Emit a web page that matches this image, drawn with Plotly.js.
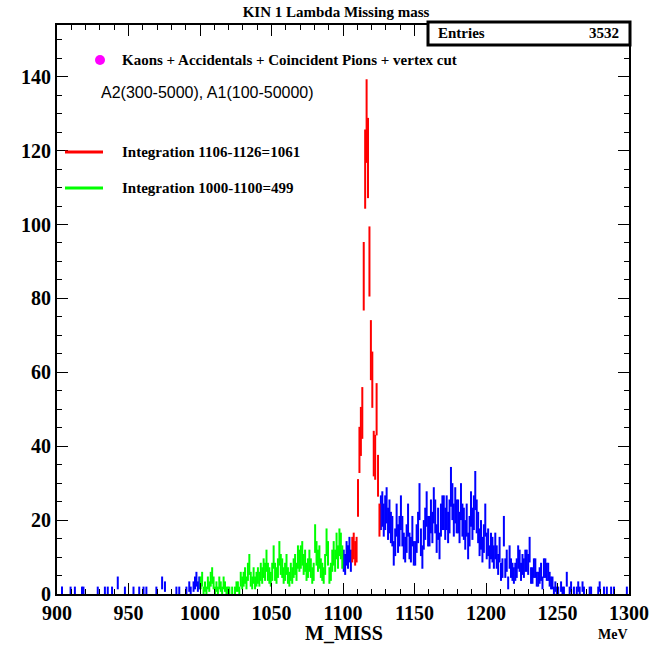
<!DOCTYPE html>
<html>
<head>
<meta charset="utf-8">
<script src="https://cdn.plot.ly/plotly-3.0.1.min.js"></script>
<style>html,body{margin:0;padding:0;background:#fff;}#plot{width:654px;height:648px;}</style>
</head>
<body>
<div id="plot"></div>
<script>
// Histogram M_MISS, 1 MeV bins from 900 to 1300
const binStart = 900;
const counts900 = [
 0,0,0,1,0,0,0,0,0,1,
 0,0,1,0,0,0,0,1,1,0,
 0,0,0,0,0,0,0,0,1,0,
 0,0,0,1,0,1,0,0,1,0,
 0,0,3,0,0,0,0,1,0,0,
 0,0,0,1,0,0,0,1,0,0,
 1,0,1,0,0,0,0,0,0,1,
 0,0,0,3,0,2,0,0,0,0,
 0,0,0,1,0,1,0,0,0,0,
 1,0,2,1,0,2,3,4,2,3];
// green selection 1000-1099
const countsGreen = [
 3,4,1,2,1,3,2,4,5,3,
 1,2,1,3,2,1,3,2,1,1,
 1,0,1,0,1,2,2,1,4,3,
 4,5,3,6,8,4,3,5,3,4,
 5,4,6,5,7,6,9,6,5,4,
 6,10,6,5,7,11,8,7,5,6,
 8,5,4,6,5,7,8,6,10,9,
 10,11,8,9,6,7,9,7,5,6,
 15,11,9,10,7,6,5,8,14,11,
 5,6,9,11,9,13,10,14,13,10];
// 1100-1105
const counts1100 = [9,8,11,10,12,9];
// red selection 1106-1125
const countsRed = [12,13,11,12,26,39,44,49,86,115,128,118,90,66,58,38,37,50,32,20];
// 1126-1299
const counts1126 = [
 22,23,20,22,24,19,21,18,17,11,14,20,15,17,
 22,17,13,12,15,20,13,12,17,11,
 11,15,18,25,14,10,16,19,23,17,
 17,21,18,24,21,15,19,13,20,22,
 22,19,22,18,21,29,25,20,24,21,
 21,18,25,20,19,16,20,13,17,23,
 19,22,28,21,18,14,16,12,15,20,
 13,14,10,13,12,10,13,10,8,12,
 6,7,17,7,9,3,10,7,6,5,
 6,7,10,9,6,8,7,9,9,8,
 12,5,5,7,7,4,4,5,6,3,
 7,7,6,6,4,3,3,1,2,1,
 1,0,2,1,1,0,4,0,1,2,
 0,1,0,1,2,1,0,2,1,0,
 0,0,1,1,0,0,0,0,1,2,
 0,0,1,0,1,0,0,1,0,1,
 0,0,0,0,0,0,0,0,1,0];

const xTickVals = [900,950,1000,1050,1100,1150,1200,1250,1300];
const yTickVals = [0,20,40,60,80,100,120,140];

const titleText = "KIN 1 Lambda Missing mass";
const xTitle = "M_MISS";
const unitText = "MeV";
const legendMain = "Kaons + Accidentals + Coincident Pions + vertex cut";
const legendCuts = "A2(300-5000), A1(100-50000)";
const legendRed = "Integration 1106-1126=1061";
const legendGreen = "Integration 1000-1100=499";
const entriesLabel = "Entries";
const entriesValue = "3532";

function centers(start, arr){ return arr.map((_, i) => start + i + 0.5); }
function errs(arr){ return arr.map(v => Math.sqrt(v)); }

function histTrace(start, arr, color){
  return {
    type: 'scatter', mode: 'markers',
    x: centers(start, arr), y: arr,
    marker: {size: 1, opacity: 0, color: color},
    error_y: {type: 'data', array: errs(arr), visible: true, width: 0, thickness: 2, color: color},
    hoverinfo: 'skip', showlegend: false, cliponaxis: true
  };
}

const traces = [
  histTrace(binStart, counts900, '#0000ff'),
  histTrace(1100, counts1100, '#0000ff'),
  histTrace(1126, counts1126, '#0000ff'),
  histTrace(1000, countsGreen, '#00ff00'),
  histTrace(1106, countsRed, '#ff0000')
];

// pixel helpers for decorations (plot frame px 57..629 x, 25..594 y)
const L = 57, R = 629, T = 25, B = 594;
const px = p => (p - L) / (R - L);
const py = p => (B - p) / (B - T);
const serifB = {family: 'Liberation Serif', size: 15, color: '#000', weight: 'bold'};

const layout = {
  width: 654, height: 648,
  margin: {l: L, r: 654 - R, t: T, b: 648 - B, pad: 0},
  paper_bgcolor: '#fff', plot_bgcolor: '#fff',
  showlegend: false,
  title: {text: titleText, font: {family: 'Liberation Serif', size: 15, weight: 'bold', color: '#000'},
          xref: 'paper', x: px(336), xanchor: 'center', yref: 'container', y: 1 - 12/648, yanchor: 'middle'},
  xaxis: {
    range: [900, 1300], tickvals: xTickVals, ticktext: xTickVals.map(String),
    ticks: 'inside', ticklen: 11, tickwidth: 1, tickcolor: '#000',
    minor: {dtick: 10, ticklen: 5, ticks: 'inside', tickcolor: '#000', tickwidth: 1},
    showline: true, linecolor: '#000', linewidth: 2, mirror: 'ticks',
    showgrid: false, zeroline: false,
    tickfont: {family: 'Liberation Serif', size: 20, weight: 'bold', color: '#000'}
  },
  yaxis: {
    range: [0, 154], tickvals: yTickVals, ticktext: yTickVals.map(String),
    ticks: 'inside', ticklen: 11, tickwidth: 1, tickcolor: '#000',
    minor: {dtick: 5, ticklen: 5, ticks: 'inside', tickcolor: '#000', tickwidth: 1},
    showline: true, linecolor: '#000', linewidth: 2, mirror: 'ticks',
    showgrid: false, zeroline: false,
    tickfont: {family: 'Liberation Serif', size: 20, weight: 'bold', color: '#000'}
  },
  shapes: [
    {type: 'rect', xref: 'paper', yref: 'paper', x0: px(428), x1: px(630), y0: py(45), y1: py(22),
     line: {color: '#000', width: 3}, fillcolor: '#fff', layer: 'above'},
    {type: 'circle', xref: 'paper', yref: 'paper', xsizemode: 'pixel', ysizemode: 'pixel',
     xanchor: px(100), yanchor: py(60), x0: -5, x1: 5, y0: -5, y1: 5,
     fillcolor: '#ff00ff', line: {color: '#ff00ff', width: 0}, layer: 'above'},
    {type: 'line', xref: 'paper', yref: 'paper', x0: px(65), x1: px(103), y0: py(152), y1: py(152),
     line: {color: '#ff0000', width: 3}, layer: 'above'},
    {type: 'line', xref: 'paper', yref: 'paper', x0: px(65), x1: px(103), y0: py(188), y1: py(188),
     line: {color: '#00ff00', width: 3}, layer: 'above'}
  ],
  annotations: [
    {text: entriesLabel, xref: 'paper', yref: 'paper', x: px(436), y: py(33), xanchor: 'left', yanchor: 'middle', showarrow: false, font: serifB},
    {text: entriesValue, xref: 'paper', yref: 'paper', x: px(621), y: py(33), xanchor: 'right', yanchor: 'middle', showarrow: false, font: serifB},
    {text: legendMain, xref: 'paper', yref: 'paper', x: px(120), y: py(60), xanchor: 'left', yanchor: 'middle', showarrow: false, font: serifB},
    {text: legendCuts, xref: 'paper', yref: 'paper', x: px(99), y: py(92), xanchor: 'left', yanchor: 'middle', showarrow: false,
     font: {family: 'Liberation Sans', size: 16, color: '#000'}},
    {text: legendRed, xref: 'paper', yref: 'paper', x: px(120), y: py(152), xanchor: 'left', yanchor: 'middle', showarrow: false, font: serifB},
    {text: legendGreen, xref: 'paper', yref: 'paper', x: px(120), y: py(188), xanchor: 'left', yanchor: 'middle', showarrow: false, font: serifB},
    {text: xTitle, xref: 'paper', yref: 'paper', x: px(344), y: py(633), xanchor: 'center', yanchor: 'middle', showarrow: false,
     font: {family: 'Liberation Serif', size: 20, weight: 'bold', color: '#000'}},
    {text: unitText, xref: 'paper', yref: 'paper', x: px(630), y: py(634), xanchor: 'right', yanchor: 'middle', showarrow: false,
     font: {family: 'Liberation Serif', size: 14, weight: 'bold', color: '#000'}}
  ]
};

Plotly.newPlot('plot', traces, layout, {staticPlot: true, displayModeBar: false});
</script>
</body>
</html>
